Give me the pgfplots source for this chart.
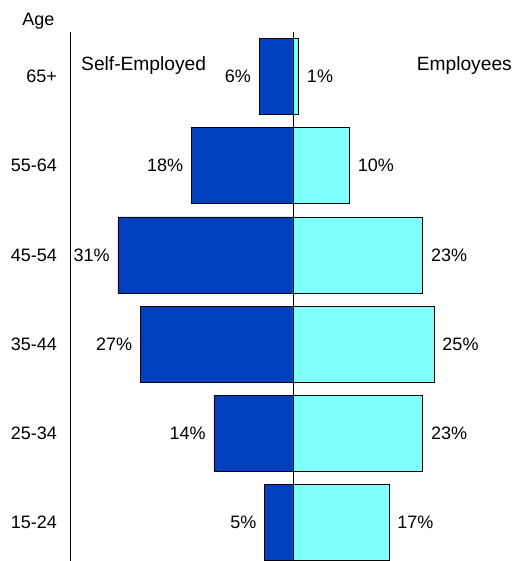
\documentclass[border=0pt]{standalone}
\usepackage{fontspec}
\setmainfont{Liberation Sans}
\usepackage{pgfplots}
\usepackage{pgfplotstable}
\pgfplotsset{compat=1.18}
\definecolor{selfblue}{RGB}{0,64,192}
\definecolor{empcyan}{RGB}{128,255,255}

% age group index, self-employed %, employees %
\pgfplotstableread{
age self emp
0   5    17
1   14   23
2   27   25
3   31   23
4   18   10
5   6    1
}\agedata

\begin{document}
\begin{tikzpicture}
\begin{axis}[
  scale only axis,
  width=446pt, height=530.7pt,
  xmin=-39.5, xmax=39.5,
  ymin=-0.45, ymax=5.5,
  axis x line=none,
  axis y line*=left,
  ytick={0,...,5},
  yticklabels={15-24,25-34,35-44,45-54,55-64,65+},
  major tick length=0pt,
  yticklabel style={anchor=east, inner sep=0pt, xshift=-13pt},
  font=\fontsize{18}{21}\selectfont,
  /pgf/number format/assume math mode=true,
  xbar, bar width=76pt, bar shift=0pt,
  point meta=explicit,
  nodes near coords={\pgfmathprintnumber{\pgfplotspointmeta}\%},
  every node near coord/.append style={inner sep=0pt, font=\fontsize{18}{21}\selectfont},
  clip=false,
]
\addplot[fill=selfblue, draw=black, line width=0.7pt,
  every node near coord/.append style={anchor=east, xshift=-8pt}]
  table[x expr=-\thisrow{self}, y=age, meta=self] {\agedata};
\addplot[fill=empcyan, draw=black, line width=0.7pt,
  every node near coord/.append style={anchor=west, xshift=8pt}]
  table[x=emp, y=age, meta=emp] {\agedata};
\draw[line width=0.7pt] (axis cs:0,5.5) -- (axis cs:0,-0.45);
\coordinate (tl) at (rel axis cs:0,1);
\node[anchor=base west, inner sep=0pt, font=\fontsize{19.2}{22}\selectfont] at ([xshift=11pt,yshift=-39pt]rel axis cs:0,1) {Self-Employed};
\node[anchor=base east, inner sep=0pt, font=\fontsize{19.2}{22}\selectfont] at ([xshift=442pt,yshift=-39pt]rel axis cs:0,1) {Employees};
\node[anchor=base, inner sep=0pt] at ([xshift=-31.5pt,yshift=6pt]rel axis cs:0,1) {Age};
\end{axis}
\pgfresetboundingbox
\useasboundingbox ([xshift=-70pt,yshift=32pt]tl) rectangle ([xshift=443pt,yshift=-529pt]tl);
\end{tikzpicture}
\end{document}
